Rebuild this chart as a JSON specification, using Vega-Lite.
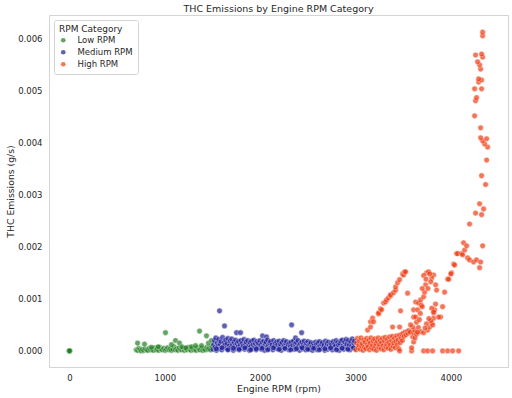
{
"$schema": "https://vega.github.io/schema/vega-lite/v6.json",
"width": 459, "height": 352,
"autosize": {"type": "none"},
"padding": {"left": 49, "top": 15, "right": 4, "bottom": 31},
"background": "white",
"title": {"text": "THC Emissions by Engine RPM Category", "fontSize": 9.5, "fontWeight": "normal", "font": "DejaVu Sans", "color": "#262626", "offset": 2, "anchor": "middle"},
"config": {
 "view": {"stroke": "#d4d4d4", "strokeWidth": 1},
 "axis": {"grid": false, "ticks": false, "domain": false, "labelFont": "DejaVu Sans", "titleFont": "DejaVu Sans", "labelFontSize": 8.5, "titleFontSize": 9.3, "titleFontWeight": "normal", "labelColor": "#262626", "titleColor": "#262626"},
 "legend": {"labelFont": "DejaVu Sans", "titleFont": "DejaVu Sans"}
},
"data": {"values": [
{"rpm":0,"thc":0,"cat":"Low RPM"},{"rpm":0,"thc":0.000001,"cat":"Low RPM"},{"rpm":0,"thc":0.000002,"cat":"Low RPM"},{"rpm":0,"thc":0,"cat":"Low RPM"},
{"rpm":700,"thc":0.00002,"cat":"Low RPM"},{"rpm":715,"thc":0.00001,"cat":"Low RPM"},{"rpm":728,"thc":0.00005,"cat":"Low RPM"},{"rpm":740,"thc":0.00002,"cat":"Low RPM"},{"rpm":752,"thc":0.0,"cat":"Low RPM"},{"rpm":765,"thc":0.00003,"cat":"Low RPM"},{"rpm":780,"thc":0.00001,"cat":"Low RPM"},{"rpm":795,"thc":0.00004,"cat":"Low RPM"},{"rpm":810,"thc":0.00002,"cat":"Low RPM"},{"rpm":822,"thc":0.00001,"cat":"Low RPM"},{"rpm":838,"thc":0.00005,"cat":"Low RPM"},{"rpm":850,"thc":0.00002,"cat":"Low RPM"},{"rpm":866,"thc":0.00003,"cat":"Low RPM"},{"rpm":880,"thc":0.00001,"cat":"Low RPM"},{"rpm":895,"thc":0.00006,"cat":"Low RPM"},{"rpm":908,"thc":0.00002,"cat":"Low RPM"},{"rpm":920,"thc":0.00004,"cat":"Low RPM"},{"rpm":935,"thc":0.00001,"cat":"Low RPM"},{"rpm":948,"thc":0.00007,"cat":"Low RPM"},{"rpm":960,"thc":0.00003,"cat":"Low RPM"},{"rpm":975,"thc":0.00002,"cat":"Low RPM"},{"rpm":990,"thc":0.00005,"cat":"Low RPM"},{"rpm":1004,"thc":0.00001,"cat":"Low RPM"},{"rpm":1018,"thc":0.00003,"cat":"Low RPM"},{"rpm":1030,"thc":0.00006,"cat":"Low RPM"},{"rpm":1045,"thc":0.00002,"cat":"Low RPM"},{"rpm":1058,"thc":0.00004,"cat":"Low RPM"},{"rpm":1070,"thc":0.00001,"cat":"Low RPM"},{"rpm":1085,"thc":0.00003,"cat":"Low RPM"},{"rpm":1098,"thc":0.00008,"cat":"Low RPM"},{"rpm":1110,"thc":0.00002,"cat":"Low RPM"},{"rpm":1125,"thc":0.00004,"cat":"Low RPM"},{"rpm":1138,"thc":0.00001,"cat":"Low RPM"},{"rpm":1150,"thc":0.00006,"cat":"Low RPM"},{"rpm":1165,"thc":0.00003,"cat":"Low RPM"},{"rpm":1178,"thc":0.00002,"cat":"Low RPM"},{"rpm":1192,"thc":0.00005,"cat":"Low RPM"},{"rpm":1205,"thc":0.00001,"cat":"Low RPM"},{"rpm":1220,"thc":0.00004,"cat":"Low RPM"},{"rpm":1234,"thc":0.00002,"cat":"Low RPM"},{"rpm":1248,"thc":0.00007,"cat":"Low RPM"},{"rpm":1260,"thc":0.00003,"cat":"Low RPM"},{"rpm":1275,"thc":0.00001,"cat":"Low RPM"},{"rpm":1288,"thc":0.00005,"cat":"Low RPM"},{"rpm":1302,"thc":0.00002,"cat":"Low RPM"},{"rpm":1315,"thc":0.00004,"cat":"Low RPM"},{"rpm":1330,"thc":0.00001,"cat":"Low RPM"},{"rpm":1344,"thc":0.00006,"cat":"Low RPM"},{"rpm":1358,"thc":0.00003,"cat":"Low RPM"},{"rpm":1370,"thc":0.00002,"cat":"Low RPM"},{"rpm":1385,"thc":0.00005,"cat":"Low RPM"},{"rpm":1398,"thc":0.00001,"cat":"Low RPM"},{"rpm":1410,"thc":0.00004,"cat":"Low RPM"},{"rpm":1425,"thc":0.00002,"cat":"Low RPM"},{"rpm":1440,"thc":0.00007,"cat":"Low RPM"},{"rpm":1452,"thc":0.00003,"cat":"Low RPM"},{"rpm":1466,"thc":0.00005,"cat":"Low RPM"},{"rpm":1480,"thc":0.00002,"cat":"Low RPM"},{"rpm":1492,"thc":0.00009,"cat":"Low RPM"},
{"rpm":714,"thc":0.00015,"cat":"Low RPM"},{"rpm":787,"thc":0.00013,"cat":"Low RPM"},{"rpm":1007,"thc":0.00035,"cat":"Low RPM"},{"rpm":1112,"thc":0.0002,"cat":"Low RPM"},{"rpm":1154,"thc":0.00015,"cat":"Low RPM"},{"rpm":1070,"thc":0.00012,"cat":"Low RPM"},{"rpm":1280,"thc":0.00008,"cat":"Low RPM"},{"rpm":1322,"thc":0.0001,"cat":"Low RPM"},{"rpm":1364,"thc":0.00038,"cat":"Low RPM"},{"rpm":1437,"thc":0.00029,"cat":"Low RPM"},{"rpm":1385,"thc":0.0001,"cat":"Low RPM"},{"rpm":1458,"thc":0.00015,"cat":"Low RPM"},{"rpm":1490,"thc":0.0002,"cat":"Low RPM"},{"rpm":930,"thc":0.00008,"cat":"Low RPM"},{"rpm":1180,"thc":0.00008,"cat":"Low RPM"},{"rpm":1220,"thc":0.00006,"cat":"Low RPM"},{"rpm":860,"thc":0.00007,"cat":"Low RPM"},
{"rpm":1505,"thc":0.00003,"cat":"Medium RPM"},{"rpm":1512,"thc":0.00012,"cat":"Medium RPM"},{"rpm":1520,"thc":0.0002,"cat":"Medium RPM"},{"rpm":1528,"thc":0.00007,"cat":"Medium RPM"},{"rpm":1535,"thc":0.00025,"cat":"Medium RPM"},{"rpm":1542,"thc":0.00001,"cat":"Medium RPM"},{"rpm":1550,"thc":0.00015,"cat":"Medium RPM"},{"rpm":1558,"thc":0.00009,"cat":"Medium RPM"},{"rpm":1566,"thc":0.00022,"cat":"Medium RPM"},{"rpm":1574,"thc":0.00004,"cat":"Medium RPM"},{"rpm":1574,"thc":0.00077,"cat":"Medium RPM"},{"rpm":1582,"thc":0.00013,"cat":"Medium RPM"},{"rpm":1590,"thc":0.00018,"cat":"Medium RPM"},{"rpm":1598,"thc":0.00002,"cat":"Medium RPM"},{"rpm":1606,"thc":0.00026,"cat":"Medium RPM"},{"rpm":1614,"thc":0.00008,"cat":"Medium RPM"},{"rpm":1622,"thc":0.00016,"cat":"Medium RPM"},{"rpm":1626,"thc":0.00048,"cat":"Medium RPM"},{"rpm":1630,"thc":0.00011,"cat":"Medium RPM"},{"rpm":1638,"thc":0.00021,"cat":"Medium RPM"},{"rpm":1646,"thc":0.00005,"cat":"Medium RPM"},{"rpm":1654,"thc":0.00014,"cat":"Medium RPM"},{"rpm":1662,"thc":0.00024,"cat":"Medium RPM"},{"rpm":1670,"thc":0.00003,"cat":"Medium RPM"},{"rpm":1678,"thc":0.0001,"cat":"Medium RPM"},{"rpm":1686,"thc":0.00019,"cat":"Medium RPM"},{"rpm":1694,"thc":0.00006,"cat":"Medium RPM"},{"rpm":1702,"thc":0.00023,"cat":"Medium RPM"},{"rpm":1710,"thc":0.00012,"cat":"Medium RPM"},{"rpm":1718,"thc":0.00001,"cat":"Medium RPM"},{"rpm":1726,"thc":0.00017,"cat":"Medium RPM"},{"rpm":1734,"thc":0.00009,"cat":"Medium RPM"},{"rpm":1742,"thc":0.00021,"cat":"Medium RPM"},{"rpm":1750,"thc":0.00004,"cat":"Medium RPM"},{"rpm":1752,"thc":0.00035,"cat":"Medium RPM"},{"rpm":1758,"thc":0.00014,"cat":"Medium RPM"},{"rpm":1766,"thc":0.00007,"cat":"Medium RPM"},{"rpm":1774,"thc":0.00018,"cat":"Medium RPM"},{"rpm":1782,"thc":0.00002,"cat":"Medium RPM"},{"rpm":1790,"thc":0.00011,"cat":"Medium RPM"},{"rpm":1794,"thc":0.00035,"cat":"Medium RPM"},{"rpm":1798,"thc":0.0002,"cat":"Medium RPM"},{"rpm":1806,"thc":0.00005,"cat":"Medium RPM"},{"rpm":1814,"thc":0.00015,"cat":"Medium RPM"},{"rpm":1822,"thc":0.00009,"cat":"Medium RPM"},{"rpm":1830,"thc":0.00022,"cat":"Medium RPM"},{"rpm":1838,"thc":0.00003,"cat":"Medium RPM"},{"rpm":1846,"thc":0.00013,"cat":"Medium RPM"},{"rpm":1854,"thc":0.00017,"cat":"Medium RPM"},{"rpm":1862,"thc":0.00006,"cat":"Medium RPM"},{"rpm":1870,"thc":0.0002,"cat":"Medium RPM"},{"rpm":1878,"thc":0.0001,"cat":"Medium RPM"},{"rpm":1886,"thc":0.00001,"cat":"Medium RPM"},{"rpm":1894,"thc":0.00016,"cat":"Medium RPM"},{"rpm":1902,"thc":0.00008,"cat":"Medium RPM"},{"rpm":1910,"thc":0.00019,"cat":"Medium RPM"},{"rpm":1918,"thc":0.00004,"cat":"Medium RPM"},{"rpm":1926,"thc":0.00012,"cat":"Medium RPM"},{"rpm":1934,"thc":0.00021,"cat":"Medium RPM"},{"rpm":1942,"thc":0.00006,"cat":"Medium RPM"},{"rpm":1950,"thc":0.00014,"cat":"Medium RPM"},{"rpm":1958,"thc":0.00002,"cat":"Medium RPM"},{"rpm":1966,"thc":0.00018,"cat":"Medium RPM"},{"rpm":1974,"thc":0.00009,"cat":"Medium RPM"},{"rpm":1982,"thc":0.00015,"cat":"Medium RPM"},{"rpm":1990,"thc":0.00005,"cat":"Medium RPM"},{"rpm":1998,"thc":0.0002,"cat":"Medium RPM"},{"rpm":2006,"thc":0.00011,"cat":"Medium RPM"},{"rpm":2014,"thc":0.00003,"cat":"Medium RPM"},{"rpm":2022,"thc":0.00016,"cat":"Medium RPM"},{"rpm":2025,"thc":0.00029,"cat":"Medium RPM"},{"rpm":2030,"thc":0.00008,"cat":"Medium RPM"},{"rpm":2038,"thc":0.00019,"cat":"Medium RPM"},{"rpm":2046,"thc":0.00001,"cat":"Medium RPM"},{"rpm":2054,"thc":0.00013,"cat":"Medium RPM"},{"rpm":2062,"thc":0.00017,"cat":"Medium RPM"},{"rpm":2067,"thc":0.00027,"cat":"Medium RPM"},{"rpm":2070,"thc":0.00006,"cat":"Medium RPM"},{"rpm":2078,"thc":0.00021,"cat":"Medium RPM"},{"rpm":2086,"thc":0.0001,"cat":"Medium RPM"},{"rpm":2094,"thc":0.00004,"cat":"Medium RPM"},{"rpm":2102,"thc":0.00015,"cat":"Medium RPM"},{"rpm":2110,"thc":0.00018,"cat":"Medium RPM"},{"rpm":2118,"thc":0.00007,"cat":"Medium RPM"},{"rpm":2126,"thc":0.00012,"cat":"Medium RPM"},{"rpm":2134,"thc":0.00002,"cat":"Medium RPM"},{"rpm":2142,"thc":0.0002,"cat":"Medium RPM"},{"rpm":2150,"thc":0.00009,"cat":"Medium RPM"},{"rpm":2158,"thc":0.00014,"cat":"Medium RPM"},{"rpm":2166,"thc":0.00005,"cat":"Medium RPM"},{"rpm":2174,"thc":0.00017,"cat":"Medium RPM"},{"rpm":2182,"thc":0.00011,"cat":"Medium RPM"},{"rpm":2190,"thc":0.00003,"cat":"Medium RPM"},{"rpm":2198,"thc":0.00019,"cat":"Medium RPM"},{"rpm":2206,"thc":0.00008,"cat":"Medium RPM"},{"rpm":2214,"thc":0.00013,"cat":"Medium RPM"},{"rpm":2222,"thc":0.00001,"cat":"Medium RPM"},{"rpm":2230,"thc":0.00016,"cat":"Medium RPM"},{"rpm":2238,"thc":0.00006,"cat":"Medium RPM"},{"rpm":2246,"thc":0.0002,"cat":"Medium RPM"},{"rpm":2254,"thc":0.0001,"cat":"Medium RPM"},{"rpm":2262,"thc":0.00004,"cat":"Medium RPM"},{"rpm":2270,"thc":0.00014,"cat":"Medium RPM"},{"rpm":2278,"thc":0.00018,"cat":"Medium RPM"},{"rpm":2286,"thc":0.00007,"cat":"Medium RPM"},{"rpm":2294,"thc":0.00012,"cat":"Medium RPM"},{"rpm":2302,"thc":0.00002,"cat":"Medium RPM"},{"rpm":2310,"thc":0.00015,"cat":"Medium RPM"},{"rpm":2318,"thc":0.00009,"cat":"Medium RPM"},{"rpm":2326,"thc":0.00017,"cat":"Medium RPM"},{"rpm":2330,"thc":0.0005,"cat":"Medium RPM"},{"rpm":2334,"thc":0.00005,"cat":"Medium RPM"},{"rpm":2342,"thc":0.00011,"cat":"Medium RPM"},{"rpm":2350,"thc":0.00019,"cat":"Medium RPM"},{"rpm":2358,"thc":0.00003,"cat":"Medium RPM"},{"rpm":2366,"thc":0.00013,"cat":"Medium RPM"},{"rpm":2371,"thc":0.00025,"cat":"Medium RPM"},{"rpm":2374,"thc":0.00008,"cat":"Medium RPM"},{"rpm":2382,"thc":0.00016,"cat":"Medium RPM"},{"rpm":2390,"thc":0.00006,"cat":"Medium RPM"},{"rpm":2398,"thc":0.0002,"cat":"Medium RPM"},{"rpm":2406,"thc":0.0001,"cat":"Medium RPM"},{"rpm":2414,"thc":0.00001,"cat":"Medium RPM"},{"rpm":2422,"thc":0.00014,"cat":"Medium RPM"},{"rpm":2430,"thc":0.00007,"cat":"Medium RPM"},{"rpm":2435,"thc":0.00035,"cat":"Medium RPM"},{"rpm":2438,"thc":0.00017,"cat":"Medium RPM"},{"rpm":2446,"thc":0.00004,"cat":"Medium RPM"},{"rpm":2454,"thc":0.00012,"cat":"Medium RPM"},{"rpm":2462,"thc":0.00019,"cat":"Medium RPM"},{"rpm":2470,"thc":0.00009,"cat":"Medium RPM"},{"rpm":2478,"thc":0.00002,"cat":"Medium RPM"},{"rpm":2486,"thc":0.00015,"cat":"Medium RPM"},{"rpm":2494,"thc":0.00006,"cat":"Medium RPM"},{"rpm":2502,"thc":0.00018,"cat":"Medium RPM"},{"rpm":2510,"thc":0.00011,"cat":"Medium RPM"},{"rpm":2518,"thc":0.00003,"cat":"Medium RPM"},{"rpm":2526,"thc":0.00013,"cat":"Medium RPM"},{"rpm":2534,"thc":0.00016,"cat":"Medium RPM"},{"rpm":2542,"thc":0.00008,"cat":"Medium RPM"},{"rpm":2550,"thc":0.00001,"cat":"Medium RPM"},{"rpm":2558,"thc":0.00014,"cat":"Medium RPM"},{"rpm":2566,"thc":0.0001,"cat":"Medium RPM"},{"rpm":2574,"thc":0.00005,"cat":"Medium RPM"},{"rpm":2582,"thc":0.00017,"cat":"Medium RPM"},{"rpm":2590,"thc":0.00012,"cat":"Medium RPM"},{"rpm":2598,"thc":0.00002,"cat":"Medium RPM"},{"rpm":2606,"thc":0.00015,"cat":"Medium RPM"},{"rpm":2614,"thc":0.00007,"cat":"Medium RPM"},{"rpm":2622,"thc":0.00018,"cat":"Medium RPM"},{"rpm":2630,"thc":0.00009,"cat":"Medium RPM"},{"rpm":2638,"thc":0.00004,"cat":"Medium RPM"},{"rpm":2646,"thc":0.00013,"cat":"Medium RPM"},{"rpm":2654,"thc":0.00016,"cat":"Medium RPM"},{"rpm":2662,"thc":0.00006,"cat":"Medium RPM"},{"rpm":2670,"thc":0.00011,"cat":"Medium RPM"},{"rpm":2678,"thc":0.00001,"cat":"Medium RPM"},{"rpm":2686,"thc":0.00019,"cat":"Medium RPM"},{"rpm":2694,"thc":0.00008,"cat":"Medium RPM"},{"rpm":2702,"thc":0.00014,"cat":"Medium RPM"},{"rpm":2710,"thc":0.00003,"cat":"Medium RPM"},{"rpm":2718,"thc":0.00017,"cat":"Medium RPM"},{"rpm":2726,"thc":0.0001,"cat":"Medium RPM"},{"rpm":2734,"thc":0.00005,"cat":"Medium RPM"},{"rpm":2742,"thc":0.00015,"cat":"Medium RPM"},{"rpm":2750,"thc":0.00012,"cat":"Medium RPM"},{"rpm":2758,"thc":0.00002,"cat":"Medium RPM"},{"rpm":2766,"thc":0.00018,"cat":"Medium RPM"},{"rpm":2774,"thc":0.00007,"cat":"Medium RPM"},{"rpm":2782,"thc":0.00013,"cat":"Medium RPM"},{"rpm":2790,"thc":0.00009,"cat":"Medium RPM"},{"rpm":2798,"thc":0.0002,"cat":"Medium RPM"},{"rpm":2806,"thc":0.00004,"cat":"Medium RPM"},{"rpm":2814,"thc":0.00016,"cat":"Medium RPM"},{"rpm":2822,"thc":0.00011,"cat":"Medium RPM"},{"rpm":2830,"thc":0.00001,"cat":"Medium RPM"},{"rpm":2838,"thc":0.00014,"cat":"Medium RPM"},{"rpm":2846,"thc":0.00019,"cat":"Medium RPM"},{"rpm":2854,"thc":0.00006,"cat":"Medium RPM"},{"rpm":2862,"thc":0.00021,"cat":"Medium RPM"},{"rpm":2870,"thc":0.0001,"cat":"Medium RPM"},{"rpm":2878,"thc":0.00003,"cat":"Medium RPM"},{"rpm":2886,"thc":0.00017,"cat":"Medium RPM"},{"rpm":2894,"thc":0.00008,"cat":"Medium RPM"},{"rpm":2902,"thc":0.00022,"cat":"Medium RPM"},{"rpm":2910,"thc":0.00013,"cat":"Medium RPM"},{"rpm":2918,"thc":0.00005,"cat":"Medium RPM"},{"rpm":2926,"thc":0.0002,"cat":"Medium RPM"},{"rpm":2934,"thc":0.00011,"cat":"Medium RPM"},{"rpm":2942,"thc":0.00002,"cat":"Medium RPM"},{"rpm":2950,"thc":0.00018,"cat":"Medium RPM"},{"rpm":2958,"thc":0.00009,"cat":"Medium RPM"},{"rpm":2966,"thc":0.00023,"cat":"Medium RPM"},{"rpm":2974,"thc":0.00006,"cat":"Medium RPM"},{"rpm":2982,"thc":0.00015,"cat":"Medium RPM"},{"rpm":2990,"thc":0.00019,"cat":"Medium RPM"},{"rpm":2996,"thc":0.00004,"cat":"Medium RPM"},
{"rpm":1540,"thc":0.00004,"cat":"Medium RPM"},{"rpm":1600,"thc":0.00006,"cat":"Medium RPM"},{"rpm":1660,"thc":0.00002,"cat":"Medium RPM"},{"rpm":1720,"thc":0.00005,"cat":"Medium RPM"},{"rpm":1780,"thc":0.00003,"cat":"Medium RPM"},{"rpm":1840,"thc":0.00006,"cat":"Medium RPM"},{"rpm":1900,"thc":0.00002,"cat":"Medium RPM"},{"rpm":1960,"thc":0.00004,"cat":"Medium RPM"},{"rpm":2020,"thc":0.00005,"cat":"Medium RPM"},{"rpm":2080,"thc":0.00002,"cat":"Medium RPM"},{"rpm":2140,"thc":0.00006,"cat":"Medium RPM"},{"rpm":2200,"thc":0.00003,"cat":"Medium RPM"},{"rpm":2260,"thc":0.00005,"cat":"Medium RPM"},{"rpm":2320,"thc":0.00002,"cat":"Medium RPM"},{"rpm":2380,"thc":0.00004,"cat":"Medium RPM"},{"rpm":2440,"thc":0.00006,"cat":"Medium RPM"},{"rpm":2500,"thc":0.00003,"cat":"Medium RPM"},{"rpm":2560,"thc":0.00005,"cat":"Medium RPM"},{"rpm":2620,"thc":0.00002,"cat":"Medium RPM"},{"rpm":2680,"thc":0.00004,"cat":"Medium RPM"},{"rpm":2740,"thc":0.00006,"cat":"Medium RPM"},{"rpm":2800,"thc":0.00002,"cat":"Medium RPM"},{"rpm":2860,"thc":0.00005,"cat":"Medium RPM"},{"rpm":2920,"thc":0.00003,"cat":"Medium RPM"},{"rpm":2980,"thc":0.00006,"cat":"Medium RPM"},
{"rpm":3005,"thc":0.00002,"cat":"High RPM"},{"rpm":3012,"thc":0.00015,"cat":"High RPM"},{"rpm":3020,"thc":0.00024,"cat":"High RPM"},{"rpm":3028,"thc":0.00006,"cat":"High RPM"},{"rpm":3035,"thc":0.00011,"cat":"High RPM"},{"rpm":3042,"thc":0.00019,"cat":"High RPM"},{"rpm":3050,"thc":0.00003,"cat":"High RPM"},{"rpm":3058,"thc":0.00025,"cat":"High RPM"},{"rpm":3065,"thc":0.00009,"cat":"High RPM"},{"rpm":3072,"thc":0.00014,"cat":"High RPM"},{"rpm":3080,"thc":0.00001,"cat":"High RPM"},{"rpm":3088,"thc":0.00021,"cat":"High RPM"},{"rpm":3095,"thc":0.00007,"cat":"High RPM"},{"rpm":3102,"thc":0.00017,"cat":"High RPM"},{"rpm":3110,"thc":0.00004,"cat":"High RPM"},{"rpm":3118,"thc":0.00024,"cat":"High RPM"},{"rpm":3125,"thc":0.00012,"cat":"High RPM"},{"rpm":3132,"thc":0.00008,"cat":"High RPM"},{"rpm":3140,"thc":0.0002,"cat":"High RPM"},{"rpm":3148,"thc":0.00002,"cat":"High RPM"},{"rpm":3155,"thc":0.00015,"cat":"High RPM"},{"rpm":3162,"thc":0.00025,"cat":"High RPM"},{"rpm":3170,"thc":0.00006,"cat":"High RPM"},{"rpm":3178,"thc":0.00011,"cat":"High RPM"},{"rpm":3185,"thc":0.00019,"cat":"High RPM"},{"rpm":3192,"thc":0.00003,"cat":"High RPM"},{"rpm":3200,"thc":0.00023,"cat":"High RPM"},{"rpm":3208,"thc":0.00009,"cat":"High RPM"},{"rpm":3215,"thc":0.00014,"cat":"High RPM"},{"rpm":3222,"thc":0.00001,"cat":"High RPM"},{"rpm":3230,"thc":0.00018,"cat":"High RPM"},{"rpm":3238,"thc":0.00025,"cat":"High RPM"},{"rpm":3245,"thc":0.00007,"cat":"High RPM"},{"rpm":3252,"thc":0.00012,"cat":"High RPM"},{"rpm":3260,"thc":0.0002,"cat":"High RPM"},{"rpm":3268,"thc":0.00004,"cat":"High RPM"},{"rpm":3275,"thc":0.00016,"cat":"High RPM"},{"rpm":3282,"thc":0.00024,"cat":"High RPM"},{"rpm":3290,"thc":0.0001,"cat":"High RPM"},{"rpm":3298,"thc":0.00002,"cat":"High RPM"},{"rpm":3305,"thc":0.00019,"cat":"High RPM"},{"rpm":3312,"thc":0.00026,"cat":"High RPM"},{"rpm":3320,"thc":0.00008,"cat":"High RPM"},{"rpm":3328,"thc":0.00013,"cat":"High RPM"},{"rpm":3335,"thc":0.00022,"cat":"High RPM"},{"rpm":3342,"thc":0.00005,"cat":"High RPM"},{"rpm":3350,"thc":0.00016,"cat":"High RPM"},{"rpm":3358,"thc":0.00027,"cat":"High RPM"},{"rpm":3365,"thc":0.00011,"cat":"High RPM"},{"rpm":3372,"thc":0.00003,"cat":"High RPM"},{"rpm":3380,"thc":0.0002,"cat":"High RPM"},{"rpm":3388,"thc":0.00028,"cat":"High RPM"},{"rpm":3395,"thc":0.00009,"cat":"High RPM"},{"rpm":3402,"thc":0.00015,"cat":"High RPM"},{"rpm":3410,"thc":0.00024,"cat":"High RPM"},{"rpm":3418,"thc":0.00006,"cat":"High RPM"},{"rpm":3425,"thc":0.00018,"cat":"High RPM"},{"rpm":3432,"thc":0.00029,"cat":"High RPM"},{"rpm":3440,"thc":0.00012,"cat":"High RPM"},{"rpm":3448,"thc":0.00021,"cat":"High RPM"},{"rpm":3455,"thc":0.00004,"cat":"High RPM"},{"rpm":3462,"thc":0.0003,"cat":"High RPM"},{"rpm":3470,"thc":0.00016,"cat":"High RPM"},{"rpm":3478,"thc":0.00025,"cat":"High RPM"},{"rpm":3485,"thc":0.00032,"cat":"High RPM"},{"rpm":3492,"thc":0.0002,"cat":"High RPM"},{"rpm":3500,"thc":0.00034,"cat":"High RPM"},{"rpm":3510,"thc":0.00028,"cat":"High RPM"},{"rpm":3520,"thc":0.00036,"cat":"High RPM"},{"rpm":3530,"thc":0.00031,"cat":"High RPM"},{"rpm":3540,"thc":0.00037,"cat":"High RPM"},{"rpm":3550,"thc":0.00034,"cat":"High RPM"},{"rpm":3560,"thc":0.00039,"cat":"High RPM"},{"rpm":3575,"thc":0.00036,"cat":"High RPM"},
{"rpm":3127,"thc":0.0004,"cat":"High RPM"},{"rpm":3158,"thc":0.00046,"cat":"High RPM"},{"rpm":3158,"thc":0.00056,"cat":"High RPM"},{"rpm":3180,"thc":0.00063,"cat":"High RPM"},{"rpm":3190,"thc":0.00056,"cat":"High RPM"},{"rpm":3242,"thc":0.00071,"cat":"High RPM"},{"rpm":3242,"thc":0.00073,"cat":"High RPM"},{"rpm":3263,"thc":0.00081,"cat":"High RPM"},{"rpm":3274,"thc":0.00079,"cat":"High RPM"},{"rpm":3295,"thc":0.00092,"cat":"High RPM"},{"rpm":3316,"thc":0.00094,"cat":"High RPM"},{"rpm":3326,"thc":0.00098,"cat":"High RPM"},{"rpm":3347,"thc":0.00102,"cat":"High RPM"},{"rpm":3368,"thc":0.00106,"cat":"High RPM"},{"rpm":3368,"thc":0.00108,"cat":"High RPM"},{"rpm":3400,"thc":0.00112,"cat":"High RPM"},{"rpm":3421,"thc":0.00117,"cat":"High RPM"},{"rpm":3421,"thc":0.00123,"cat":"High RPM"},{"rpm":3442,"thc":0.00131,"cat":"High RPM"},{"rpm":3463,"thc":0.00137,"cat":"High RPM"},{"rpm":3494,"thc":0.00148,"cat":"High RPM"},{"rpm":3505,"thc":0.00146,"cat":"High RPM"},{"rpm":3515,"thc":0.00152,"cat":"High RPM"},{"rpm":3526,"thc":0.00152,"cat":"High RPM"},
{"rpm":3547,"thc":0.00111,"cat":"High RPM"},{"rpm":3473,"thc":0.00077,"cat":"High RPM"},{"rpm":3389,"thc":0.00046,"cat":"High RPM"},{"rpm":3463,"thc":0.00046,"cat":"High RPM"},
{"rpm":3463,"thc":0,"cat":"High RPM"},{"rpm":3589,"thc":0,"cat":"High RPM"},{"rpm":3715,"thc":0,"cat":"High RPM"},{"rpm":3757,"thc":0,"cat":"High RPM"},{"rpm":3809,"thc":0,"cat":"High RPM"},{"rpm":3914,"thc":0,"cat":"High RPM"},{"rpm":3967,"thc":0,"cat":"High RPM"},{"rpm":4019,"thc":0,"cat":"High RPM"},{"rpm":4082,"thc":0,"cat":"High RPM"},
{"rpm":3589,"thc":0.00006,"cat":"High RPM"},{"rpm":3600,"thc":0.00027,"cat":"High RPM"},{"rpm":3610,"thc":0.00017,"cat":"High RPM"},{"rpm":3610,"thc":0.00035,"cat":"High RPM"},{"rpm":3620,"thc":0.0004,"cat":"High RPM"},{"rpm":3600,"thc":0.00046,"cat":"High RPM"},{"rpm":3578,"thc":0.0005,"cat":"High RPM"},{"rpm":3610,"thc":0.00065,"cat":"High RPM"},{"rpm":3631,"thc":0.00065,"cat":"High RPM"},{"rpm":3610,"thc":0.00079,"cat":"High RPM"},{"rpm":3652,"thc":0.00079,"cat":"High RPM"},{"rpm":3631,"thc":0.00094,"cat":"High RPM"},{"rpm":3662,"thc":0.00092,"cat":"High RPM"},{"rpm":3683,"thc":0.00098,"cat":"High RPM"},{"rpm":3715,"thc":0.00104,"cat":"High RPM"},{"rpm":3725,"thc":0.00113,"cat":"High RPM"},{"rpm":3736,"thc":0.00127,"cat":"High RPM"},{"rpm":3746,"thc":0.0015,"cat":"High RPM"},{"rpm":3767,"thc":0.00152,"cat":"High RPM"},{"rpm":3820,"thc":0.00146,"cat":"High RPM"},{"rpm":3799,"thc":0.0014,"cat":"High RPM"},{"rpm":3841,"thc":0.00127,"cat":"High RPM"},{"rpm":3851,"thc":0.00117,"cat":"High RPM"},{"rpm":3715,"thc":0.00145,"cat":"High RPM"},{"rpm":3740,"thc":0.00138,"cat":"High RPM"},{"rpm":3780,"thc":0.00148,"cat":"High RPM"},{"rpm":3790,"thc":0.00133,"cat":"High RPM"},{"rpm":3760,"thc":0.0012,"cat":"High RPM"},{"rpm":3700,"thc":0.0012,"cat":"High RPM"},{"rpm":3690,"thc":0.00088,"cat":"High RPM"},{"rpm":3640,"thc":0.00055,"cat":"High RPM"},{"rpm":3625,"thc":0.00025,"cat":"High RPM"},{"rpm":3640,"thc":0.00032,"cat":"High RPM"},{"rpm":3660,"thc":0.00045,"cat":"High RPM"},{"rpm":3670,"thc":0.0006,"cat":"High RPM"},{"rpm":3680,"thc":0.00072,"cat":"High RPM"},{"rpm":3700,"thc":0.00085,"cat":"High RPM"},
{"rpm":3683,"thc":0.00037,"cat":"High RPM"},{"rpm":3715,"thc":0.00035,"cat":"High RPM"},{"rpm":3757,"thc":0.0004,"cat":"High RPM"},{"rpm":3778,"thc":0.00046,"cat":"High RPM"},{"rpm":3799,"thc":0.00054,"cat":"High RPM"},{"rpm":3820,"thc":0.00063,"cat":"High RPM"},{"rpm":3820,"thc":0.00073,"cat":"High RPM"},{"rpm":3830,"thc":0.00079,"cat":"High RPM"},{"rpm":3893,"thc":0.00065,"cat":"High RPM"},{"rpm":3810,"thc":0.0005,"cat":"High RPM"},{"rpm":3790,"thc":0.00058,"cat":"High RPM"},{"rpm":3840,"thc":0.0009,"cat":"High RPM"},{"rpm":3800,"thc":0.00082,"cat":"High RPM"},{"rpm":3770,"thc":0.00062,"cat":"High RPM"},{"rpm":3745,"thc":0.00052,"cat":"High RPM"},{"rpm":3730,"thc":0.00044,"cat":"High RPM"},{"rpm":3650,"thc":0.00036,"cat":"High RPM"},{"rpm":3914,"thc":0.00085,"cat":"High RPM"},{"rpm":3872,"thc":0.00065,"cat":"High RPM"},{"rpm":3820,"thc":0.00075,"cat":"High RPM"},
{"rpm":3935,"thc":0.00113,"cat":"High RPM"},{"rpm":3967,"thc":0.00138,"cat":"High RPM"},{"rpm":3977,"thc":0.00138,"cat":"High RPM"},{"rpm":4008,"thc":0.0015,"cat":"High RPM"},{"rpm":4000,"thc":0.00148,"cat":"High RPM"},{"rpm":4030,"thc":0.00167,"cat":"High RPM"},{"rpm":4040,"thc":0.00165,"cat":"High RPM"},{"rpm":4061,"thc":0.00187,"cat":"High RPM"},{"rpm":4071,"thc":0.00187,"cat":"High RPM"},{"rpm":4113,"thc":0.00187,"cat":"High RPM"},{"rpm":4124,"thc":0.00185,"cat":"High RPM"},{"rpm":4134,"thc":0.00208,"cat":"High RPM"},{"rpm":4145,"thc":0.00194,"cat":"High RPM"},{"rpm":4166,"thc":0.00202,"cat":"High RPM"},{"rpm":4176,"thc":0.00179,"cat":"High RPM"},{"rpm":4197,"thc":0.00175,"cat":"High RPM"},{"rpm":4197,"thc":0.00244,"cat":"High RPM"},{"rpm":4239,"thc":0.00171,"cat":"High RPM"},{"rpm":4270,"thc":0.00175,"cat":"High RPM"},{"rpm":4302,"thc":0.0016,"cat":"High RPM"},{"rpm":4313,"thc":0.00171,"cat":"High RPM"},{"rpm":4334,"thc":0.00202,"cat":"High RPM"},{"rpm":4260,"thc":0.00265,"cat":"High RPM"},{"rpm":4302,"thc":0.00283,"cat":"High RPM"},{"rpm":4323,"thc":0.00262,"cat":"High RPM"},{"rpm":4344,"thc":0.00273,"cat":"High RPM"},{"rpm":4365,"thc":0.0032,"cat":"High RPM"},{"rpm":4323,"thc":0.00337,"cat":"High RPM"},{"rpm":4376,"thc":0.00367,"cat":"High RPM"},{"rpm":4386,"thc":0.00392,"cat":"High RPM"},{"rpm":4355,"thc":0.00398,"cat":"High RPM"},{"rpm":4334,"thc":0.00404,"cat":"High RPM"},{"rpm":4376,"thc":0.00408,"cat":"High RPM"},{"rpm":4313,"thc":0.0041,"cat":"High RPM"},{"rpm":4313,"thc":0.00429,"cat":"High RPM"},{"rpm":4250,"thc":0.00452,"cat":"High RPM"},{"rpm":4260,"thc":0.00481,"cat":"High RPM"},{"rpm":4270,"thc":0.00487,"cat":"High RPM"},{"rpm":4250,"thc":0.00504,"cat":"High RPM"},{"rpm":4323,"thc":0.00504,"cat":"High RPM"},{"rpm":4292,"thc":0.00517,"cat":"High RPM"},{"rpm":4323,"thc":0.00521,"cat":"High RPM"},{"rpm":4292,"thc":0.00523,"cat":"High RPM"},{"rpm":4313,"thc":0.00542,"cat":"High RPM"},{"rpm":4302,"thc":0.0055,"cat":"High RPM"},{"rpm":4281,"thc":0.00556,"cat":"High RPM"},{"rpm":4334,"thc":0.00565,"cat":"High RPM"},{"rpm":4323,"thc":0.00571,"cat":"High RPM"},{"rpm":4260,"thc":0.00569,"cat":"High RPM"},{"rpm":4334,"thc":0.00606,"cat":"High RPM"},{"rpm":4334,"thc":0.00613,"cat":"High RPM"}
]},
"mark": {"type": "point", "filled": true, "opacity": 0.7, "stroke": "white", "strokeWidth": 0.5, "strokeOpacity": 1, "size": 32},
"encoding": {
 "x": {"field": "rpm", "type": "quantitative", "title": "Engine RPM (rpm)", "scale": {"domain": [-215, 4600], "nice": false, "zero": false}, "axis": {"values": [0, 1000, 2000, 3000, 4000], "format": "d", "labelPadding": 6, "titlePadding": 3}},
 "y": {"field": "thc", "type": "quantitative", "title": "THC Emissions (g/s)", "scale": {"domain": [-0.00031, 0.00646], "nice": false, "zero": false}, "axis": {"values": [0, 0.001, 0.002, 0.003, 0.004, 0.005, 0.006], "format": ".3f", "labelPadding": 7, "titlePadding": 2}},
 "color": {"field": "cat", "type": "nominal", "scale": {"domain": ["Low RPM", "Medium RPM", "High RPM"], "range": ["#1f7f1f", "#1c1c99", "#f03a10"]}, "legend": {"title": "RPM Category", "orient": "top-left", "offset": 5, "strokeColor": "#d4d4d4", "fillColor": "white", "cornerRadius": 2, "padding": 5, "titleFontSize": 9, "titleFontWeight": "normal", "titleColor": "#262626", "labelFontSize": 8.5, "labelColor": "#262626", "symbolSize": 22, "symbolType": "circle", "symbolOpacity": 0.7, "symbolStrokeWidth": 0, "rowPadding": 3, "titlePadding": 2, "labelOffset": 10}}
}
}
